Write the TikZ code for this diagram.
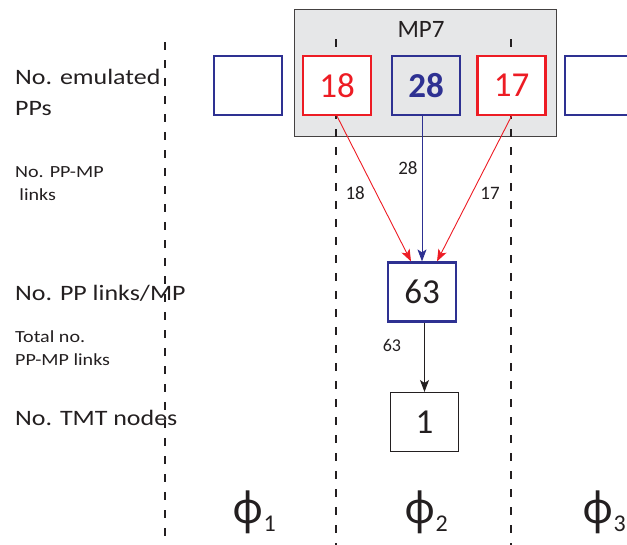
\documentclass[tikz,border=0pt]{standalone}
\usepackage{fontspec}
\setmainfont{Carlito}
\newfontfamily\rowfont{Carlito}[FakeStretch=1.18]
\newfontfamily\phifont{Noto Sans}
\usetikzlibrary{arrows.meta}
\definecolor{ppred}{HTML}{ED1C24}
\definecolor{ppblue}{HTML}{2E3192}
\definecolor{mpgray}{HTML}{E6E7E8}
\definecolor{textgray}{HTML}{231F20}
\newcommand{\phaselabel}[1]{{\phifont ϕ}\raisebox{-8pt}{\fontsize{24}{24}\selectfont #1}}
\tikzset{
  pp box/.style={
    rectangle,
    minimum width=68pt,
    minimum height=59pt,
    inner sep=0pt,
    line width=2.2pt,
    font=\fontsize{35}{35}\selectfont,
  },
  pp red/.style={
    pp box,
    draw=ppred,
    fill=white,
    text=ppred,
  },
  pp blue/.style={
    pp box,
    draw=ppblue,
    fill=white,
    text=ppblue,
  },
  tmt box/.style={
    pp box,
    line width=1.1pt,
    draw=textgray,
    fill=white,
    text=textgray,
  },
  mp frame/.style={
    rectangle,
    minimum width=262pt,
    minimum height=127pt,
    inner sep=0pt,
    line width=1pt,
    draw=textgray!85,
    fill=mpgray,
  },
  phase sep/.style={
    draw=textgray,
    line width=1.1pt,
    dash pattern=on 8pt off 10pt,
  },
  link/.style={
    -{Stealth[length=12pt,width=9pt,inset=3pt]},
    line width=0.9pt,
  },
  count/.style={
    text=textgray,
    inner sep=3pt,
    font=\fontsize{19}{19}\selectfont,
  },
  row label/.style={
    align=left,
    inner sep=0pt,
    text=textgray,
    font=\rowfont\fontsize{22}{31}\selectfont,
  },
  row note/.style={
    row label,
    font=\rowfont\fontsize{17}{23}\selectfont,
  },
  phase/.style={
    text=textgray,
    inner sep=0pt,
    font=\fontsize{43}{43}\selectfont,
  },
}

\begin{document}
\begin{tikzpicture}[x=1pt,y=-1pt]
  \useasboundingbox (0,0) rectangle (627,544);

  % The MP7 card.
  \node[mp frame] (mp7) at (425,72.5) {};
  \node[text=textgray, font=\fontsize{25}{25}\selectfont, anchor=base] (mp7 title) at (421,37) {MP7};

  % Phase boundaries.
  \coordinate (sep1 top) at (165,42);
  \coordinate (sep1 end) at (165,548);
  \coordinate (sep2 top) at (336,39);
  \coordinate (sep2 end) at (336,548);
  \coordinate (sep3 top) at (511,39);
  \coordinate (sep3 end) at (511,548);
  \foreach \sep in {sep1,sep2,sep3}{
    \draw[phase sep] (\sep\space top) -- (\sep\space end);
  }

  % Emulated PPs.
  \node[pp blue] (pp left) at (248,85.5) {};
  \node[pp red] (pp18) at (337,85.5) {18};
  \node[pp blue, fill=mpgray, font=\fontsize{35}{35}\selectfont\bfseries] (pp28) at (426,85.5) {28};
  \node[pp red] (pp17) at (511.5,85.5) {17};
  \node[pp blue] (pp right) at (599,85.5) {};

  % Links per MP and TMT node.
  \node[pp blue, text=textgray] (mp links) at (422,292) {63};
  \node[tmt box] (tmt) at (424.5,422) {1};

  % PP-MP links.
  \draw[link, ppred] (pp18.south) -- node[count, pos=0.53, left=8pt] {18} ([xshift=-11pt]mp links.north);
  \draw[link, ppblue] (pp28.south -| mp links.north) -- node[count, pos=0.36, left=1pt] {28} (mp links.north);
  \draw[link, ppred] (pp17.south) -- node[count, pos=0.53, right=5pt] {17} ([xshift=15pt]mp links.north);
  \draw[link, textgray] (mp links.south -| tmt.north) -- node[count, pos=0.33, left=20pt, font=\fontsize{18}{18}\selectfont] {63} (tmt.north);

  % Row labels (base is the last line).
  \node[row label, anchor=base west] (emulated) at (15,115) {No. emulated\\PPs};
  \node[row note, anchor=base west] (pp mp) at (15,200) {No. PP-MP\\\hspace*{0.25em}links};
  \node[row label, anchor=base west] (pp links) at (15,300) {No. PP links/MP};
  \node[row note, anchor=base west] (total) at (15,365) {Total no.\\PP-MP links};
  \node[row label, anchor=base west] (tmt nodes) at (15,425) {No. TMT nodes};

  % Phases.
  \node[phase, anchor=base] (phi1) at (254,523) {\phaselabel{1}};
  \node[phase, anchor=base] (phi2) at (426,523) {\phaselabel{2}};
  \node[phase, anchor=base] (phi3) at (604,523) {\phaselabel{3}};
\end{tikzpicture}
\end{document}
